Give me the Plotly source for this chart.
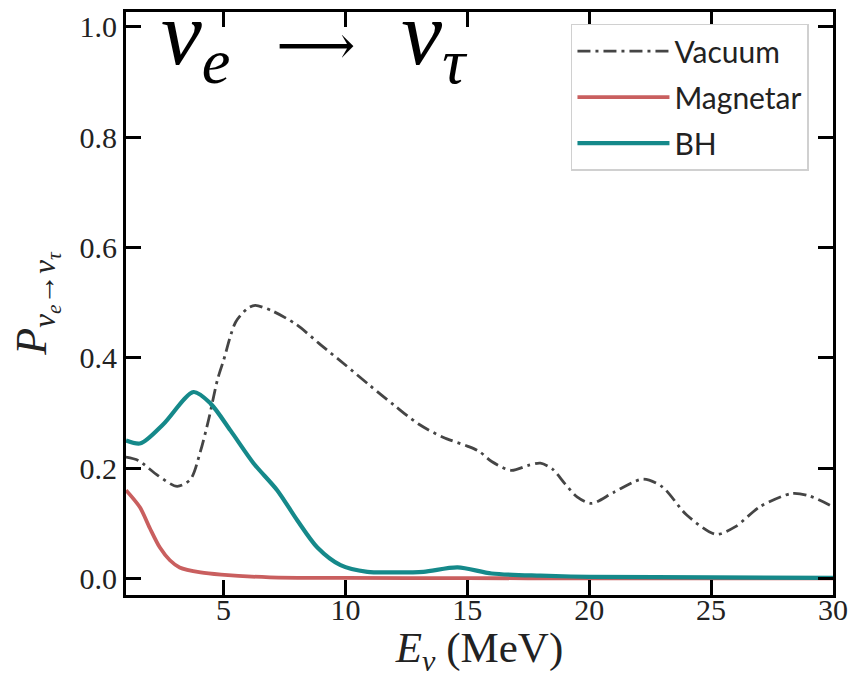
import plotly.graph_objects as go

# Data
vac_E = [1.0, 1.5, 2.3, 3.1, 3.65, 4.05, 4.4, 4.75, 5.0, 5.5, 6.0, 6.3, 7.0, 8.0, 9.0, 10.0, 11.0, 12.0, 13.0, 14.0, 15.0, 15.5, 16.0, 16.8, 17.5, 18.0, 18.5, 19.0, 19.5, 20.1, 21.0, 22.2, 23.0, 24.0, 25.2, 26.0, 27.0, 28.3, 29.0, 30.0]
vac_P = [0.22, 0.214, 0.187, 0.167, 0.18, 0.23, 0.29, 0.36, 0.395, 0.465, 0.49, 0.495, 0.485, 0.46, 0.423, 0.387, 0.35, 0.314, 0.28, 0.256, 0.24, 0.23, 0.212, 0.196, 0.205, 0.209, 0.198, 0.172, 0.148, 0.136, 0.156, 0.18, 0.166, 0.115, 0.08, 0.094, 0.13, 0.154, 0.15, 0.13]

mag_E = [1.0, 1.57, 1.98, 2.39, 2.8, 3.2, 4.06, 4.9, 6.9, 10.0, 15.0, 20.0, 25.0, 30.0]
mag_P = [0.16, 0.129, 0.091, 0.056, 0.033, 0.02, 0.011, 0.007, 0.002, 0.001, 0.0005, 0.0003, 0.0002, 0.0001]

bh_E = [1.0, 1.6, 2.54, 3.77, 4.47, 5.29, 6.23, 7.2, 8.03, 8.85, 9.8, 10.9, 12.0, 13.2, 14.6, 16.0, 18.0, 20.0, 25.0, 30.0]
bh_P = [0.25, 0.245, 0.28, 0.338, 0.317, 0.268, 0.209, 0.16, 0.105, 0.056, 0.024, 0.012, 0.011, 0.012, 0.02, 0.009, 0.005, 0.003, 0.002, 0.001]

x_ticks = [5, 10, 15, 20, 25, 30]
y_ticks = [0.0, 0.2, 0.4, 0.6, 0.8, 1.0]

SERIF = "Liberation Serif, serif"
NB = "\u00a0"

fig = go.Figure()
fig.add_trace(go.Scatter(x=vac_E, y=vac_P, mode="lines", name="Vacuum",
                         line=dict(color="#454545", width=2.8, dash="13px,5px,3px,5px", shape="spline", smoothing=0.8),
                         legendgroup="a"))
fig.add_trace(go.Scatter(x=mag_E, y=mag_P, mode="lines", name="Magnetar",
                         line=dict(color="#c95f5f", width=3.8, shape="spline", smoothing=0.8),
                         legendgroup="b"))
fig.add_trace(go.Scatter(x=bh_E, y=bh_P, mode="lines", name="BH",
                         line=dict(color="#15898a", width=4.2, shape="spline", smoothing=0.8),
                         legendgroup="c"))

axis_common = dict(showline=True, linewidth=3, linecolor="black", mirror="allticks",
                   ticks="inside", ticklen=15, tickwidth=3, tickcolor="black",
                   showgrid=False, zeroline=False, automargin=False,
                   tickfont=dict(family=SERIF, size=30, color="#222"))

fig.update_xaxes(range=[1, 30], tickvals=x_ticks, ticktext=[str(v) for v in x_ticks],
                 ticklabelstandoff=-14,
                 title=dict(text="<i>E</i><sub><i>ν</i></sub> (MeV)", font=dict(family=SERIF, size=43, color="#222"), standoff=4),
                 **axis_common)
fig.update_yaxes(range=[-0.03, 1.027], tickvals=y_ticks, ticktext=[f"{v:.1f}" for v in y_ticks],
                 title=dict(text="<i>P</i><sub><i>ν</i><sub><i>e</i></sub>→<i>ν</i><sub><i>τ</i></sub></sub>", font=dict(family=SERIF, size=44, color="#222"), standoff=20),
                 **axis_common)

fig.add_annotation(x=0.047, y=1.055, xref="paper", yref="paper", xanchor="left", yanchor="top",
                   text=("<i>ν</i><sub><i>e</i></sub>" + NB + NB
                         + "<span style=\"font-family:'DejaVu Serif';font-size:55px\">⟶</span>"
                         + NB + NB + "<i>ν</i><sub><i>τ</i></sub>"),
                   showarrow=False, font=dict(family=SERIF, size=92, color="black"))

fig.update_layout(
    width=852, height=678,
    margin=dict(l=126, r=19, t=12, b=83),
    paper_bgcolor="white", plot_bgcolor="white",
    font=dict(family=SERIF, color="#222"),
    showlegend=True,
    legend=dict(x=0.966, y=0.98, xanchor="right", yanchor="top",
                bgcolor="white", bordercolor="#d0d0d0", borderwidth=1.5,
                font=dict(family="Lato", size=30, color="#222"),
                itemwidth=92,
                tracegroupgap=4),
)

fig.write_html("out.html")
